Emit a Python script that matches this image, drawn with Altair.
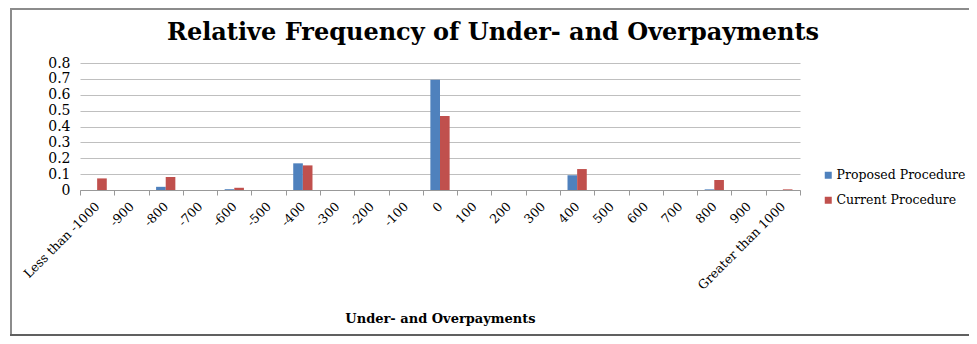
import altair as alt
import pandas as pd

categories = ["Less than -1000", "-900", "-800", "-700", "-600", "-500", "-400",
              "-300", "-200", "-100", "0", "100", "200", "300", "400", "500",
              "600", "700", "800", "900", "Greater than 1000"]
proposed = [0, 0, 0.02, 0, 0.005, 0, 0.168, 0, 0, 0, 0.695, 0, 0, 0, 0.093,
            0, 0, 0, 0.004, 0, 0]
current = [0.073, 0, 0.082, 0, 0.014, 0, 0.155, 0, 0, 0, 0.466, 0, 0, 0, 0.132,
           0, 0, 0, 0.063, 0, 0.004]
series = ["Proposed Procedure", "Current Procedure"]
colors = ["#4F81BD", "#C0504D"]
y_ticks = [0, 0.1, 0.2, 0.3, 0.4, 0.5, 0.6, 0.7, 0.8]

rows = []
for c, p, q in zip(categories, proposed, current):
    rows.append({"cat": c, "series": series[0], "value": p})
    rows.append({"cat": c, "series": series[1], "value": q})
df = pd.DataFrame(rows)

FONT = "DejaVu Serif"

bars = alt.Chart(df).mark_bar().encode(
    x=alt.X("cat:N", sort=categories,
            scale=alt.Scale(paddingInner=0, paddingOuter=0),
            axis=alt.Axis(title="Under- and Overpayments", labelAngle=-45,
                          labelAlign="right", labelBaseline="middle",
                          labelFont=FONT, labelFontSize=12.5, labelColor="#000",
                          labelPadding=9, tickBand="extent", tickSize=5,
                          tickColor="#999", domainColor="#999", grid=False,
                          titleFont=FONT, titleFontSize=13, titleFontWeight="bold",
                          titleColor="#000", titleY=128, titleBaseline="middle")),
    xOffset=alt.XOffset("series:N", sort=series,
                        scale=alt.Scale(paddingOuter=0.78, paddingInner=0)),
    y=alt.Y("value:Q", scale=alt.Scale(domain=[0, 0.8]),
            axis=alt.Axis(title=None, values=y_ticks, format=".1~f", ticks=False,
                          domain=False, labelFont=FONT, labelFontSize=14,
                          labelColor="#000", labelPadding=10, gridColor="#BFBFBF",
                          gridWidth=1)),
    color=alt.Color("series:N", sort=series,
                    scale=alt.Scale(domain=series, range=colors),
                    legend=alt.Legend(title=None, orient="none", legendX=742,
                                      legendY=106, symbolType="square",
                                      symbolSize=49, symbolStrokeWidth=0,
                                      labelFont=FONT, labelFontSize=12.5,
                                      labelColor="#000", rowPadding=12,
                                      labelOffset=2)),
)

border_left = alt.Chart(df).mark_rule(color="#8C8C8C", strokeWidth=2).encode(
    x=alt.value(-69), y=alt.value(-55), y2=alt.value(273))
border_top = alt.Chart(df).mark_rule(color="#8C8C8C", strokeWidth=2).encode(
    x=alt.value(-70), x2=alt.value(889), y=alt.value(-54))
border_bottom = alt.Chart(df).mark_rule(color="#606060", strokeWidth=2).encode(
    x=alt.value(-70), x2=alt.value(889), y=alt.value(272))

chart = alt.layer(bars, border_left, border_top, border_bottom).properties(
    width=720, height=127,
    autosize=alt.AutoSizeParams(type="none"),
    padding={"left": 72, "top": 55, "right": 169, "bottom": 146},
    title=alt.TitleParams("Relative Frequency of Under- and Overpayments",
                          font=FONT, fontSize=24, fontWeight="bold", color="#000",
                          anchor="middle", frame="group", dx=53, offset=0, dy=57,
                          baseline="alphabetic"),
).configure_view(stroke=None)

chart.save("out.html", embed_options={"renderer": "svg", "actions": False})
